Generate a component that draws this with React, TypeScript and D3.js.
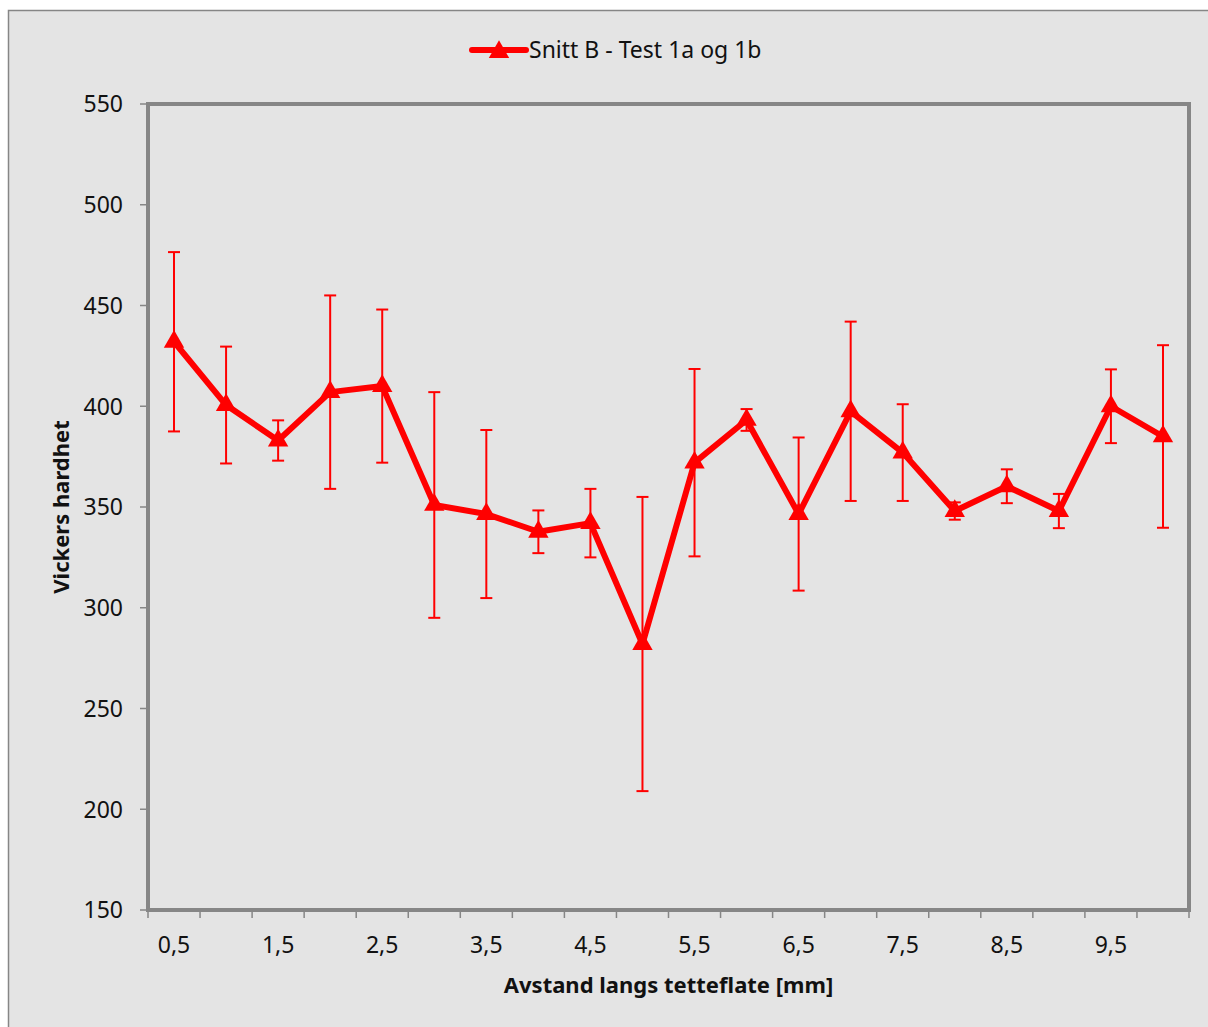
import * as d3 from 'd3';

// distance along sealing surface [mm]
const categories = [
  '0,5', '1', '1,5', '2', '2,5', '3', '3,5', '4', '4,5', '5',
  '5,5', '6', '6,5', '7', '7,5', '8', '8,5', '9', '9,5', '10',
];
// Vickers hardness, mean per position
const hardness = [
  432, 400.6, 383, 407, 410, 351, 346.5, 337.7, 342, 282,
  372, 393.2, 346.5, 397.5, 377, 348, 360.3, 348, 400, 385,
];
// +/- error bar size
const errors = [
  44.5, 29, 10, 48, 38, 56, 41.7, 10.6, 17, 73,
  46.5, 5.4, 38, 44.5, 24, 4.3, 8.4, 8.5, 18.3, 45.3,
];
const yTicks = [150, 200, 250, 300, 350, 400, 450, 500, 550];
const seriesName = 'Snitt B - Test 1a og 1b';

const W = 1208;
const H = 1027;
const plot = { left: 148, right: 1189, top: 104, bottom: 910 };
const font = "'Noto Sans', 'Open Sans', sans-serif";
const red = '#ff0000';
const axisGray = '#868686';

const triangle = d3.symbol().type(d3.symbolTriangle).size(180);

const App = () => {
  const x = d3
    .scaleBand<string>()
    .domain(categories)
    .range([plot.left, plot.right])
    .paddingInner(0)
    .paddingOuter(0);
  const y = d3.scaleLinear().domain([150, 550]).range([plot.bottom, plot.top]);
  const cx = (c: string) => (x(c) as number) + x.bandwidth() / 2;

  const line = d3
    .line<number>()
    .x((_, i) => cx(categories[i]))
    .y((d) => y(d));

  // tick marks between categories, like Excel's category axis
  const boundaries = categories.map((c) => x(c) as number).concat([plot.right]);

  return (
    <svg
      width={W}
      height={H}
      style={{ position: 'absolute', left: 0, top: 0, display: 'block' }}
    >
      <rect x={8.5} y={10.5} width={W + 10} height={H + 10} fill="#e4e4e4" stroke={axisGray} strokeWidth={1.5} />

      {/* legend */}
      <g>
        <line x1={472} x2={526} y1={50} y2={50} stroke={red} strokeWidth={6} strokeLinecap="round" />
        <path d={triangle() as string} transform="translate(499,52)" fill={red} />
        <text x={529} y={58} fontFamily={font} fontSize={23} fill="#111">
          {seriesName}
        </text>
      </g>

      {/* plot frame */}
      <rect
        x={plot.left}
        y={plot.top}
        width={plot.right - plot.left}
        height={plot.bottom - plot.top}
        fill="none"
        stroke={axisGray}
        strokeWidth={4}
      />

      {/* y axis */}
      {yTicks.map((t) => (
        <g key={t}>
          <line x1={140} x2={plot.left} y1={y(t)} y2={y(t)} stroke={axisGray} strokeWidth={1.5} />
          <text
            x={123}
            y={y(t)}
            dy="0.36em"
            textAnchor="end"
            fontFamily={font}
            fontSize={23}
            fill="#111"
          >
            {t}
          </text>
        </g>
      ))}
      <text
        transform={`translate(69,${(plot.top + plot.bottom) / 2}) rotate(-90)`}
        textAnchor="middle"
        fontFamily={font}
        fontSize={22}
        fontWeight="bold"
        fill="#111"
      >
        Vickers hardhet
      </text>

      {/* x axis */}
      {boundaries.map((b, i) => (
        <line key={i} x1={b} x2={b} y1={plot.bottom} y2={plot.bottom + 8} stroke={axisGray} strokeWidth={1.5} />
      ))}
      {categories.map((c, i) =>
        i % 2 === 0 ? (
          <text
            key={c}
            x={cx(c)}
            y={953}
            textAnchor="middle"
            fontFamily={font}
            fontSize={23}
            fill="#111"
          >
            {c}
          </text>
        ) : null
      )}
      <text
        x={(plot.left + plot.right) / 2}
        y={993}
        textAnchor="middle"
        fontFamily={font}
        fontSize={22}
        fontWeight="bold"
        fill="#111"
      >
        Avstand langs tetteflate [mm]
      </text>

      {/* error bars */}
      {categories.map((c, i) => {
        const px = cx(c);
        const hi = y(hardness[i] + errors[i]);
        const lo = y(hardness[i] - errors[i]);
        return (
          <g key={c} stroke={red} strokeWidth={2}>
            <line x1={px} x2={px} y1={hi} y2={lo} />
            <line x1={px - 6} x2={px + 6} y1={hi} y2={hi} />
            <line x1={px - 6} x2={px + 6} y1={lo} y2={lo} />
          </g>
        );
      })}

      {/* series */}
      <path d={line(hardness) as string} fill="none" stroke={red} strokeWidth={6} strokeLinejoin="round" />
      {categories.map((c, i) => (
        <path
          key={c}
          d={triangle() as string}
          transform={`translate(${cx(c)},${y(hardness[i])})`}
          fill={red}
        />
      ))}
    </svg>
  );
};

export default App;
